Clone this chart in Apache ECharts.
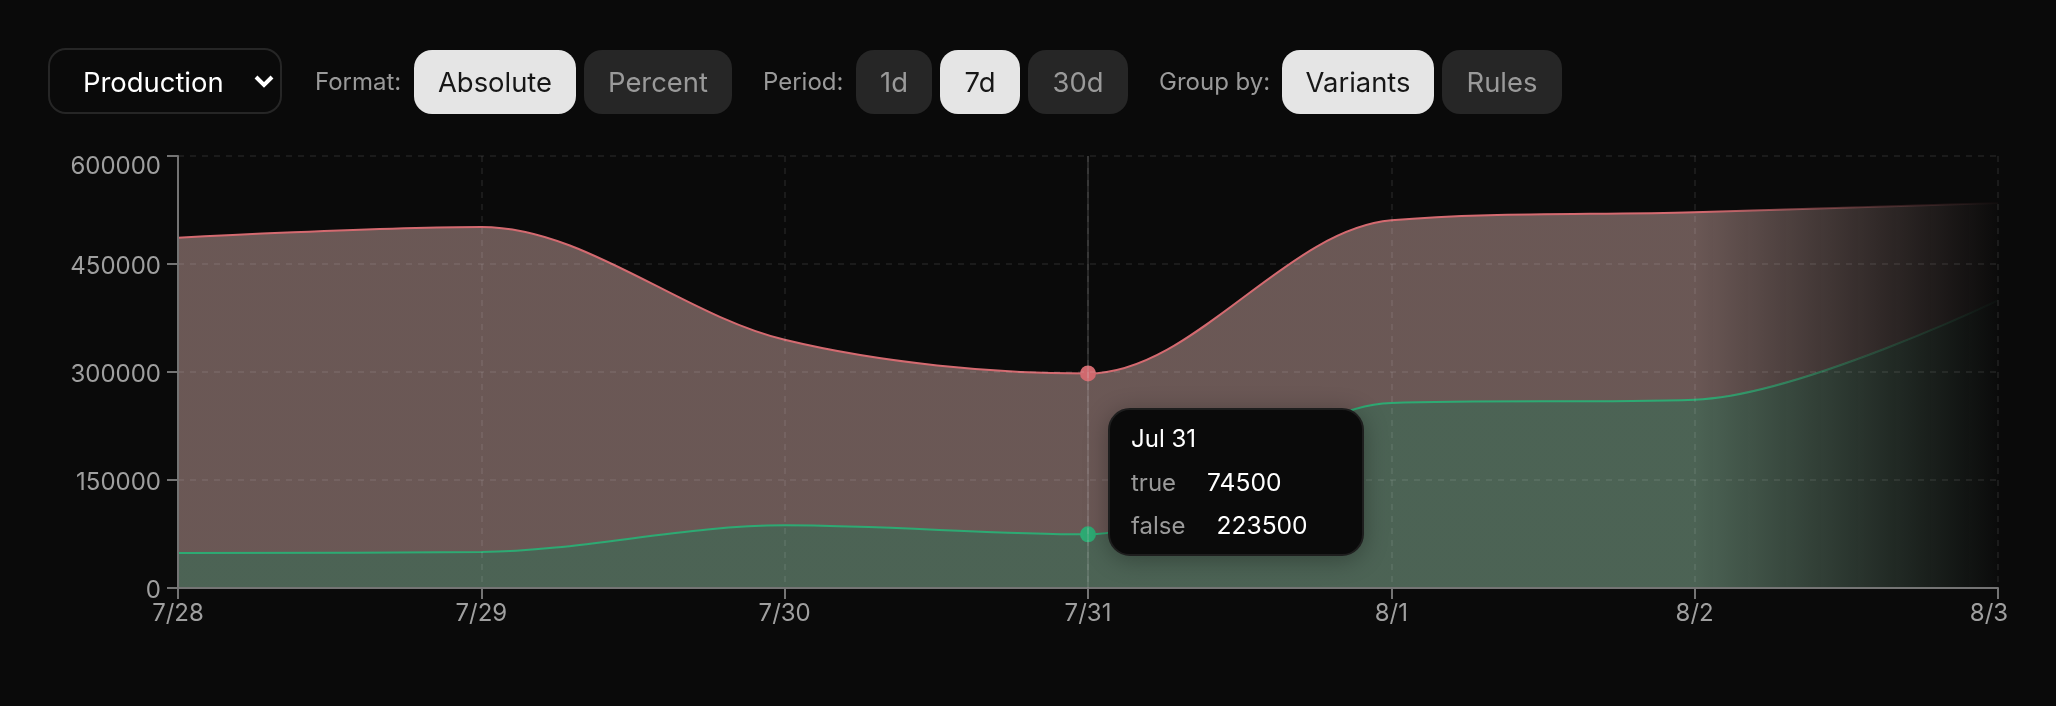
<!DOCTYPE html>
<html><head><meta charset="utf-8">
<script src="https://cdn.jsdelivr.net/npm/echarts@6/dist/echarts.min.js"></script>
<style>
html,body{margin:0;padding:0;background:#0a0a0a;width:2056px;height:706px;overflow:hidden;font-family:Inter,sans-serif}
#chart{position:absolute;left:0;top:0;width:2056px;height:706px}
.t{position:absolute;top:50px;height:64px;line-height:64px;box-sizing:border-box;text-align:center;font-size:27.4px;z-index:3}
.b{border-radius:18px;background:#262626;color:#9a9a9a}
.on{background:#e5e5e5;color:#171717}
.l{font-size:24px;color:#9a9a9a;text-align:left}
#env{position:absolute;z-index:3;left:48px;top:48px;width:234px;height:66px;box-sizing:border-box;border:2px solid #262626;border-radius:18px;
background:#0a0a0a url("data:image/svg+xml,%3Csvg xmlns='http://www.w3.org/2000/svg' width='20' height='14' viewBox='0 0 20 14'%3E%3Cpath d='M2 3l8 8 8-8' fill='none' stroke='white' stroke-width='4'/%3E%3C/svg%3E") no-repeat 204px 24px;
color:#fff;font:27.4px Inter,sans-serif;padding:2px 0 0 33px;appearance:none;-webkit-appearance:none;outline:none}
</style></head><body>
<select id="env"><option>Production</option></select>
<div class="t l" style="left:315px;width:90px">Format:</div>
<div class="t b on" style="left:414px;width:162px">Absolute</div>
<div class="t b" style="left:584px;width:148px">Percent</div>
<div class="t l" style="left:763px;width:90px">Period:</div>
<div class="t b" style="left:856px;width:76px">1d</div>
<div class="t b on" style="left:940px;width:80px">7d</div>
<div class="t b" style="left:1028px;width:100px">30d</div>
<div class="t l" style="left:1159px;width:115px">Group by:</div>
<div class="t b on" style="left:1282px;width:152px">Variants</div>
<div class="t b" style="left:1442px;width:120px">Rules</div>
<div id="chart"></div>
<script>
const categories = ['7/28','7/29','7/30','7/31','8/1','8/2','8/3'];
const fullDates = ['Jul 28','Jul 29','Jul 30','Jul 31','Aug 1','Aug 2','Aug 3'];
const trueValues = [48600,50000,87000,74500,257000,261600,399500];
const falseValues = [438000,451400,257700,223500,253700,260400,135200];
const yTicks = 150000;
const yMax = 600000;

function fade(r,g,b,a,lineFade){
  const stops=[
    {offset:0,color:`rgba(${r},${g},${b},${a})`},
    {offset:5/6,color:`rgba(${r},${g},${b},${a})`}];
  if(lineFade) stops.push({offset:0.925,color:`rgba(${r},${g},${b},${a*0.28})`});
  stops.push({offset:1,color:`rgba(${r},${g},${b},0.02)`});
  return new echarts.graphic.LinearGradient(0,0,1,0,stops);
}
function makeSeries(name,data,line,dot,area){
  const ls={width:2,color:fade(...line,1,true)}, as={color:fade(...area,0.85),opacity:1};
  return {name,type:'line',stack:'total',data,smooth:0.33,
    symbol:'circle',symbolSize:16,showSymbol:false,
    itemStyle:{color:`rgb(${dot})`},
    lineStyle:ls,
    areaStyle:as,
    emphasis:{scale:false,focus:'none',lineStyle:ls,areaStyle:as}
  };
}
const gridLine={show:true,lineStyle:{color:'rgba(255,255,255,.07)',width:2,type:[6,6]}};
const chart = echarts.init(document.getElementById('chart'),null,{renderer:'canvas'});
chart.setOption({
  animation:false,
  backgroundColor:'transparent',
  grid:{left:178,right:58,top:156,bottom:118},
  textStyle:{fontFamily:'Inter'},
  tooltip:{
    trigger:'axis',alwaysShowContent:true,transitionDuration:0,
    position:(pt,params)=>[chart.convertToPixel({xAxisIndex:0},params[0].dataIndex)+20,408],
    backgroundColor:'#0a0a0a',borderColor:'#1e1e1e',borderWidth:2,borderRadius:20,padding:0,
    extraCssText:'box-shadow:0 4px 24px rgba(0,0,0,.3);box-sizing:border-box;width:256px;height:148px;border-radius:22px;',
    axisPointer:{type:'line',lineStyle:{color:'rgba(200,200,200,.22)',width:1.5,type:'solid'},label:{show:false}},
    formatter(ps){
      const row=(n,v)=>`<div style="position:absolute;left:21px;top:${n[1]}px;line-height:30px;font-size:24px;white-space:nowrap"><span style="color:#9a9a9a">${n[0]}</span><span style="color:#fff;margin-left:31px;font-size:24.6px">${v}</span></div>`;
      return `<div style="position:relative;font-family:Inter;width:256px;height:148px"><div style="position:absolute;left:21px;top:14px;line-height:30px;font-size:24px;color:#fff">${fullDates[ps[0].dataIndex]}</div>`+
        row(['true',57],ps[0].value)+row(['false',100],ps[1].value)+`</div>`;
    }
  },
  xAxis:{type:'category',boundaryGap:false,data:categories,z:5,
    axisLine:{lineStyle:{color:'#747474',width:2}},
    axisTick:{length:11,alignWithLabel:true,lineStyle:{color:'#747474',width:2}},
    axisLabel:{interval:0,color:'#9f9f9f',fontSize:24,fontFamily:'Inter',margin:14,
      formatter:(v)=>v===categories[categories.length-1]?`{last|${v}}`:v,
      rich:{last:{padding:[0,18,0,0],fontSize:24,color:'#9f9f9f',fontFamily:'Inter'}}},
    splitLine:gridLine},
  yAxis:{type:'value',min:0,max:yMax,interval:yTicks,z:5,
    axisLine:{show:true,lineStyle:{color:'#747474',width:2}},
    axisTick:{show:true,length:11,lineStyle:{color:'#747474',width:2}},
    axisLabel:{color:'#9f9f9f',fontSize:24,fontFamily:'Inter',margin:17,padding:[5,0,0,0],
      formatter:(v)=>v===yMax?`{top|${v}}`:String(v),
      rich:{top:{padding:[17,0,0,0],fontSize:24,color:'#9f9f9f',fontFamily:'Inter'}}},
    splitLine:gridLine},
  series:[
    makeSeries('true',trueValues,[45,170,115],[45,170,115],[88,115,98]),
    makeSeries('false',falseValues,[212,106,112],[208,105,110],[124,102,99])
  ]
});
chart.dispatchAction({type:'showTip',seriesIndex:0,dataIndex:3});
</script>
</body></html>
